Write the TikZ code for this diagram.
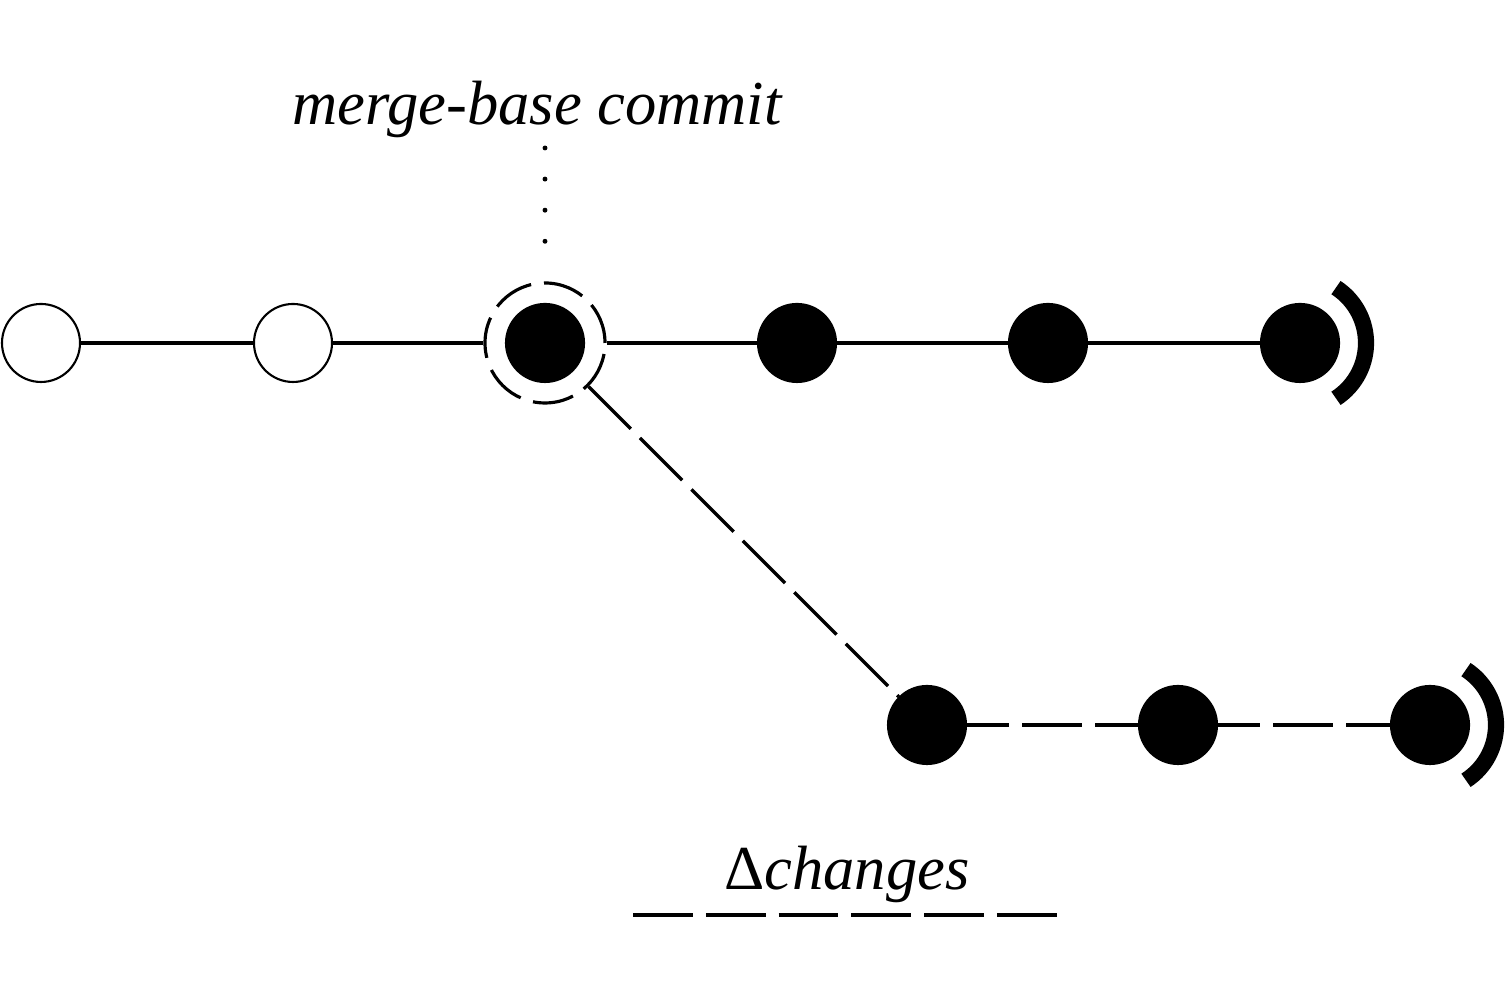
\documentclass[tikz,border=0pt]{standalone}
\usepackage{fontspec}
\setmainfont{Liberation Serif}
\usetikzlibrary{calc}

\begin{document}
\begin{tikzpicture}
	\tikzset{
		commit/.style={circle, draw, line width=0.6pt, minimum size=0.78cm, inner sep=0pt},
		done/.style={commit, fill=black},
		ring/.style={circle, draw, line width=0.9pt, minimum size=1.2cm, inner sep=0pt, dash pattern=on 11.7pt off 3.7pt},
		edge/.style={line width=0.9pt},
		longdash/.style={line width=0.95pt, dash pattern=on 17pt off 3.7pt},
		dotline/.style={line width=1.4pt, line cap=round, dash pattern=on 0pt off 8.85pt},
		head/.style={line width=4.6pt},
		tag/.style={font=\fontsize{17.8}{21}\selectfont\itshape, inner sep=0pt, anchor=base}
	}
	\useasboundingbox (0,0) rectangle (15.05,10);

	\newcommand \HeadRadius{0.66};
	\node[commit] (c1) at (0.41,6.57) {};
	\node[commit] (c2) at (2.93,6.57) {};
	\node[done] (c3) at (5.45,6.57) {};
	\node[ring] (mb) at (c3) {};
	\node[done] (c4) at (7.97,6.57) {};
	\node[done] (c5) at (10.48,6.57) {};
	\node[done] (c6) at (13.00,6.57) {};

	\node[done] (f1) at (9.27,2.75) {};
	\node[done] (f2) at (11.78,2.75) {};
	\node[done] (f3) at (14.30,2.75) {};

	\draw[edge] (c1) -- (c2);
	\draw[edge] (c2) -- (mb);
	\draw[edge] (mb) -- (c4);
	\draw[edge] (c4) -- (c5);
	\draw[edge] (c5) -- (c6);

	\draw[longdash] (mb) -- (f1);
	\draw[longdash, dash phase=5pt] (f1) -- (f2);
	\draw[longdash, dash phase=5pt] (f2) -- (f3);

	\draw[head] ([shift={(-57:\HeadRadius)}]c6.center) arc (-57:57:\HeadRadius);
	\draw[head] ([shift={(-57:\HeadRadius)}]f3.center) arc (-57:57:\HeadRadius);

	\node[tag] (mlabel) at (5.37,8.75) {merge-base commit};
	\coordinate (mtip) at (5.45,8.52);
	\draw[dotline, shorten >=0.39cm] (mtip) -- (mb.north);

	\node[tag] (delta) at (8.47,1.10) {{\upshape Δ}changes};
	\coordinate (dl) at (6.33,0.85);
	\coordinate (dr) at (10.60,0.85);
	\draw[longdash, line width=1.1pt] (dl) -- (dr);
\end{tikzpicture}
\end{document}
